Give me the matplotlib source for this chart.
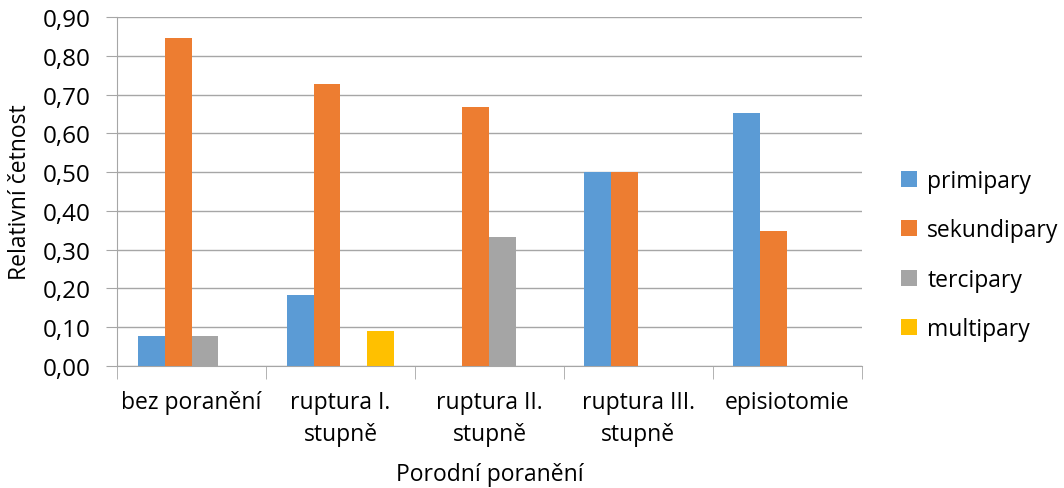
import numpy as np
import matplotlib.pyplot as plt

plt.rcParams['font.family'] = ['Open Sans', 'DejaVu Sans']

categories = ['bez poranění', 'ruptura I.\nstupně', 'ruptura II.\nstupně',
              'ruptura III.\nstupně', 'episiotomie']
series = ['primipary', 'sekundipary', 'tercipary', 'multipary']
primipary = [0.077, 0.182, 0.0, 0.500, 0.652]
sekundipary = [0.846, 0.727, 0.667, 0.500, 0.348]
tercipary = [0.077, 0.0, 0.333, 0.0, 0.0]
multipary = [0.0, 0.091, 0.0, 0.0, 0.0]
colors = ['#5B9BD5', '#ED7D31', '#A5A5A5', '#FFC000']
yticks = [0.0, 0.1, 0.2, 0.3, 0.4, 0.5, 0.6, 0.7, 0.8, 0.9]

fs = 16.5
fig = plt.figure(figsize=(10.64, 4.89), dpi=100)
ax = fig.add_axes([0.110, 0.2495, 0.700, 0.7135])

x = np.arange(len(categories))
w = 0.181
for i, (vals, name) in enumerate(zip([primipary, sekundipary, tercipary, multipary], series)):
    ax.bar(x + (i - 1.5) * w, vals, w, color=colors[i], label=name, zorder=3)

ax.set_xlim(-0.5, len(categories) - 0.5)
ax.set_ylim(0, 0.9)
ax.set_yticks(yticks)
ax.set_yticklabels([f'{v:.2f}'.replace('.', ',') for v in yticks], fontsize=17.5)
ax.yaxis.grid(True, color='#A6A6A6', linewidth=1, zorder=0)
ax.tick_params(axis='y', length=8, color='#A6A6A6', pad=11)

ax.set_xticks(x)
ax.set_xticklabels(categories, fontsize=fs, linespacing=1.45)
ax.tick_params(axis='x', length=0, pad=17)
ax.set_xticks(np.arange(len(categories) + 1) - 0.5, minor=True)
ax.tick_params(axis='x', which='minor', length=9, color='#A6A6A6')

for s in ['top', 'right']:
    ax.spines[s].set_visible(False)
for s in ['left', 'bottom']:
    ax.spines[s].set_color('#A6A6A6')

ax.set_ylabel('Relativní četnost', fontsize=fs, labelpad=8)
ax.set_xlabel('Porodní poranění', fontsize=fs, labelpad=12)

ax.legend(loc='center left', bbox_to_anchor=(1.04, 0.318), frameon=False,
          fontsize=fs, handlelength=0.7, handleheight=0.7,
          handletextpad=0.45, labelspacing=1.1, borderaxespad=0)

fig.savefig('out.png', dpi=100)
